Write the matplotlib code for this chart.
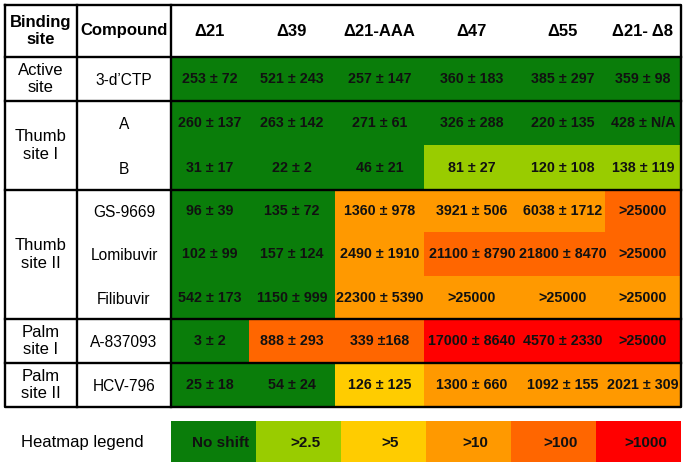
import numpy as np
import matplotlib
matplotlib.use('Agg')
import matplotlib.pyplot as plt
from matplotlib.colors import ListedColormap

plt.rcParams['font.family'] = ['Liberation Sans', 'DejaVu Sans']

# table content
constructs = ['\u039421', '\u039439', '\u039421-AAA', '\u039447', '\u039455', '\u039421- \u03948']
sites = ['Active\nsite', 'Thumb\nsite I', 'Thumb\nsite II', 'Palm\nsite I', 'Palm\nsite II']
site_rows = [1, 2, 3, 1, 1]
compounds = ["3-d\u2019CTP", 'A', 'B', 'GS-9669', 'Lomibuvir', 'Filibuvir', 'A-837093', 'HCV-796']

ic50 = [
    ['253 \u00b1 72', '521 \u00b1 243', '257 \u00b1 147', '360 \u00b1 183', '385 \u00b1 297', '359 \u00b1 98'],
    ['260 \u00b1 137', '263 \u00b1 142', '271 \u00b1 61', '326 \u00b1 288', '220 \u00b1 135', '428 \u00b1 N/A'],
    ['31 \u00b1 17', '22 \u00b1 2', '46 \u00b1 21', '81 \u00b1 27', '120 \u00b1 108', '138 \u00b1 119'],
    ['96 \u00b1 39', '135 \u00b1 72', '1360 \u00b1 978', '3921 \u00b1 506', '6038 \u00b1 1712', '>25000'],
    ['102 \u00b1 99', '157 \u00b1 124', '2490 \u00b1 1910', '21100 \u00b1 8790', '21800 \u00b1 8470', '>25000'],
    ['542 \u00b1 173', '1150 \u00b1 999', '22300 \u00b1 5390', '>25000', '>25000', '>25000'],
    ['3 \u00b1 2', '888 \u00b1 293', '339 \u00b1168', '17000 \u00b1 8640', '4570 \u00b1 2330', '>25000'],
    ['25 \u00b1 18', '54 \u00b1 24', '126 \u00b1 125', '1300 \u00b1 660', '1092 \u00b1 155', '2021 \u00b1 309'],
]

# fold-shift class of each cell (index into legend)
shift_class = np.array([
    [0, 0, 0, 0, 0, 0],
    [0, 0, 0, 0, 0, 0],
    [0, 0, 0, 1, 1, 1],
    [0, 0, 3, 3, 3, 4],
    [0, 0, 3, 4, 4, 4],
    [0, 0, 3, 3, 3, 3],
    [0, 4, 4, 5, 5, 5],
    [0, 0, 2, 3, 3, 3],
])

legend_labels = ['No shift', '>2.5', '>5', '>10', '>100', '>1000']
legend_colors = ['#0a7d0a', '#99cc00', '#ffcc00', '#ff9900', '#ff6600', '#ff0000']

# layout (pixels)
x_edges = np.array([171, 249, 335, 424, 520, 605, 681])
y_edges = np.array([57, 101, 145, 190, 232, 276, 319, 363, 407])
left, col1, col2, top = 5, 77, 171, 5

fig = plt.figure(figsize=(6.87, 4.66), dpi=100)
ax = fig.add_axes([0, 0, 1, 1])
ax.set_xlim(0, 687)
ax.set_ylim(466, 0)
ax.axis('off')

cmap = ListedColormap(legend_colors)
ax.pcolormesh(x_edges, y_edges, shift_class, cmap=cmap, vmin=-0.5, vmax=5.5)

xc = (x_edges[:-1] + x_edges[1:]) / 2
yc = (y_edges[:-1] + y_edges[1:]) / 2

for j, name in enumerate(constructs):
    ax.text(xc[j], (top + y_edges[0]) / 2, name, ha='center', va='center',
            fontsize=12, fontweight='bold')
for i, row in enumerate(ic50):
    for j, val in enumerate(row):
        ax.text(xc[j], yc[i], val, ha='center', va='center', fontsize=10.3,
                fontweight='bold', color='#111111')
    ax.text((col1 + col2) / 2, yc[i] + 1.5, compounds[i], ha='center', va='center',
            fontsize=11.2)

ax.text((left + col1) / 2, (top + y_edges[0]) / 2, 'Binding\nsite', ha='center',
        va='center', fontsize=12, fontweight='bold', linespacing=1.1)
ax.text((col1 + col2) / 2, (top + y_edges[0]) / 2, 'Compound', ha='center',
        va='center', fontsize=12, fontweight='bold')

lw = 1.7
r = 0
for s, n in zip(sites, site_rows):
    y0, y1 = y_edges[r], y_edges[r + n]
    ax.text((left + col1) / 2, (y0 + y1) / 2, s, ha='center', va='center', fontsize=12)
    ax.plot([left, x_edges[-1]], [y0, y0], color='black', lw=lw)
    r += n
ax.plot([left, x_edges[-1], x_edges[-1], left, left],
        [top, top, y_edges[-1], y_edges[-1], top], color='black', lw=lw)
for xv in (col1, col2):
    ax.plot([xv, xv], [top, y_edges[-1]], color='black', lw=lw)

# heatmap legend
lx = np.linspace(171, 681, len(legend_labels) + 1)
ax.pcolormesh(lx, [421, 462], np.arange(len(legend_labels))[None, :], cmap=cmap,
              vmin=-0.5, vmax=5.5)
for k, lab in enumerate(legend_labels):
    ax.text((lx[k] + lx[k + 1]) / 2 + 7, 443, lab, ha='center', va='center',
            fontsize=11, fontweight='bold', color='#111111',
            family=['Liberation Sans Narrow', 'Liberation Sans'])
ax.text(82, 442, 'Heatmap legend', ha='center', va='center', fontsize=12)

fig.savefig('out.png', dpi=100)
